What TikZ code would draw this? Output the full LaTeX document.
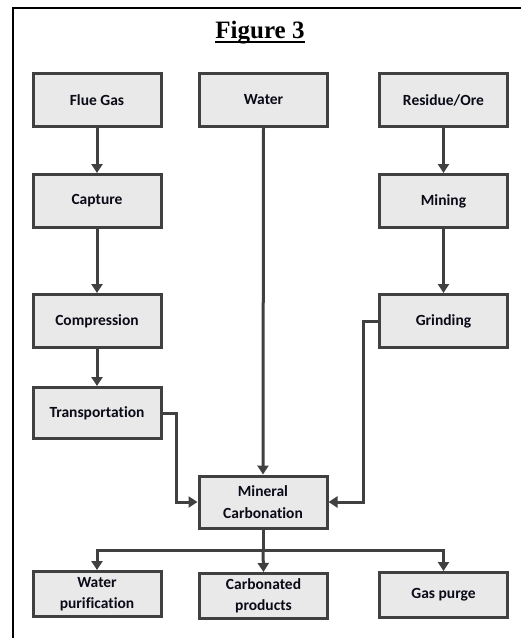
\documentclass[tikz,border=0pt]{standalone}
\usepackage{fontspec}
\setmainfont{Liberation Serif}
\newfontfamily\boxfamily[Ligatures=NoCommon]{Carlito}
\usetikzlibrary{arrows.meta}

\definecolor{boxline}{HTML}{404040}
\definecolor{boxfill}{HTML}{E9E9E9}
\definecolor{boxtext}{HTML}{0A0A18}

\tikzset{
  procbox/.style={draw=boxline, line width=3pt, fill=boxfill, text=boxtext,
    minimum width=128pt, minimum height=53pt, inner sep=2pt, align=center,
    font=\boxfamily\bfseries\fontsize{15.5}{21.5}\selectfont},
  lowbox/.style={procbox, minimum height=45pt},
  flow/.style={draw=boxline, line width=3pt, -{Triangle[length=9pt, width=11pt]}},
  link/.style={draw=boxline, line width=3pt}
}

\begin{document}
\begin{tikzpicture}[x=1pt, y=-1pt] % pixel-like units, y runs downwards

    \useasboundingbox (0,0) rectangle (521,638);

    % Outer frame (right and bottom edges fall outside the page)
    \draw[line width=2.5pt] (13,660) -- (13,8) -- (540,8);

    % Title
    \node[font=\bfseries\fontsize{25}{28}\selectfont, anchor=base, inner sep=0pt] (title) at (260,38) {Figure 3};
    \draw[line width=1.4pt] ([yshift=-4pt]title.base west) -- ([yshift=-4pt]title.base east);

    % === Top row: inputs ===
    \node[procbox] (flue) at (97,100) {Flue Gas};
    \node[procbox] (water) at (263.5,100) {Water};
    \node[procbox] (ore) at (443.5,100) {Residue/Ore};

    % === Left branch: CO2 route ===
    \node[procbox] (capture) at (97,201) {Capture};
    \node[procbox] (compress) at (97,321) {Compression};
    \node[procbox, minimum height=51pt] (transport) at (97,413) {Transportation};

    % === Right branch: mineral route ===
    \node[procbox] (mining) at (443.5,201) {Mining};
    \node[procbox] (grinding) at (443.5,321) {Grinding};

    % === Reactor ===
    \node[procbox, minimum height=52pt] (carbon) at (263,502) {Mineral\\Carbonation};

    % === Outputs ===
    \node[lowbox] (waterpur) at (97,594) {Water\\purification};
    \node[lowbox] (products) at (263.5,596) {Carbonated\\products};
    \node[lowbox] (purge) at (443.5,595) {Gas purge};

    \coordinate (split) at (263,550);

    % Connectors
    \draw[flow] (flue) -- (capture);
    \draw[flow] (capture) -- (compress);
    \draw[flow] (compress) -- (transport);
    \draw[flow] (ore) -- (mining);
    \draw[flow] (mining) -- (grinding);
    \draw[flow] (water.south) -- (carbon.north);
    \draw[flow] (transport.east) -- ++(14,0) |- (carbon.west);
    \draw[flow] (grinding.west) -- ++(-15,0) |- (carbon.east);

    % Split to the outputs
    \draw[link] (carbon.south) -- (split);
    \draw[flow] (split) -| (waterpur.north);
    \draw[flow] (split) -| (purge.north);
    \draw[flow] (split) -- (products.north);

\end{tikzpicture}
\end{document}
